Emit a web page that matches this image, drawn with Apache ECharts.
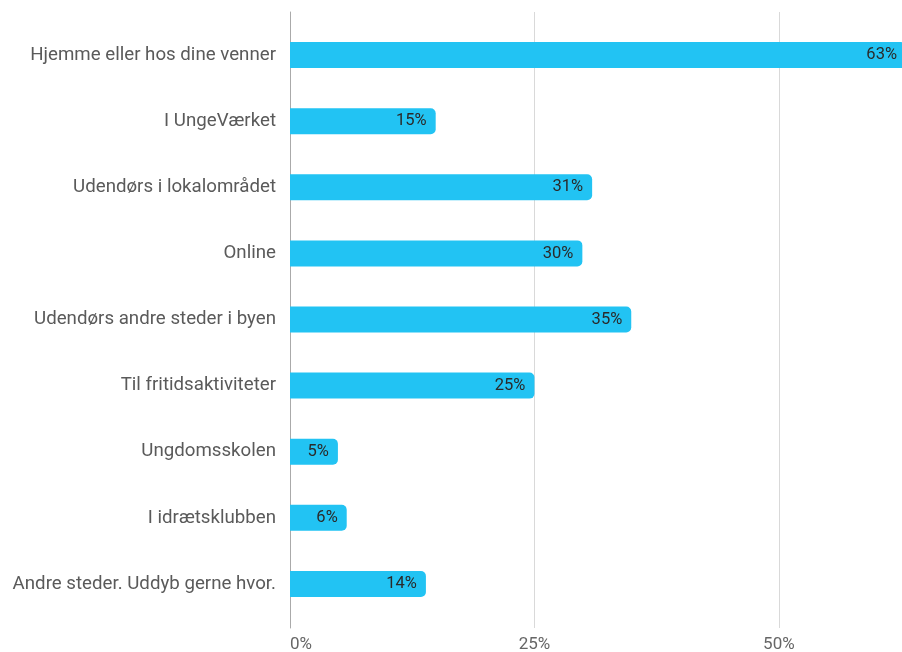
<!DOCTYPE html>
<html>
<head>
<meta charset="utf-8">
<script src="https://cdn.jsdelivr.net/npm/echarts@6/dist/echarts.min.js"></script>
<style>html,body{margin:0;padding:0;background:#fff}#c{width:902px;height:652px}</style>
</head>
<body>
<div id="c"></div>
<script>
const categories = [
  "Hjemme eller hos dine venner",
  "I UngeVærket",
  "Udendørs i lokalområdet",
  "Online",
  "Udendørs andre steder i byen",
  "Til fritidsaktiviteter",
  "Ungdomsskolen",
  "I idrætsklubben",
  "Andre steder. Uddyb gerne hvor."
];
const values = [63, 14.9, 30.9, 29.9, 34.9, 25, 4.9, 5.8, 13.9];
const tickLabels = ["0%", "25%", "50%"];

const chart = echarts.init(document.getElementById('c'));
chart.setOption({
  animation: false,
  grid: [
    {left: 290, width: 616, top: 22, bottom: 35, outerBoundsMode: 'none', containLabel: false},
    {left: 290, width: 616, top: 12, bottom: 24, outerBoundsMode: 'none', containLabel: false}
  ],
  xAxis: [
    {gridIndex: 0, type: 'value', min: 0, max: 63, show: false},
    {gridIndex: 1, type: 'value', min: 0, max: 63, interval: 25,
      axisLine: {show: false}, axisTick: {show: false},
      splitLine: {show: true, lineStyle: {color: '#d9d9d9', width: 1}},
      axisLabel: {color: '#666', fontFamily: 'Roboto', fontSize: 17, margin: 8,
        showMaxLabel: false, alignMinLabel: 'left',
        formatter: function (v) { return tickLabels[Math.round(v / 25)] || ''; }}
    }
  ],
  yAxis: [
    {gridIndex: 0, type: 'category', data: categories, inverse: true,
      axisLine: {show: false}, axisTick: {show: false}, splitLine: {show: false},
      axisLabel: {color: '#5a5a5a', fontFamily: 'Roboto', fontSize: 18.7, margin: 14}},
    {gridIndex: 1, type: 'value', min: 0, max: 1,
      axisLine: {show: true, lineStyle: {color: '#aaa', width: 1}},
      axisTick: {show: false}, axisLabel: {show: false}, splitLine: {show: false}}
  ],
  series: [{
    type: 'bar', xAxisIndex: 0, yAxisIndex: 0,
    data: values, barWidth: 26, clip: false,
    itemStyle: {color: '#22c3f3', borderRadius: [0, 5, 5, 0]},
    label: {show: true, position: 'insideRight', distance: 9, color: '#2a2a2a',
      fontFamily: 'Roboto', fontSize: 16.5,
      formatter: function (p) { return Math.round(p.value) + '%'; }}
  }]
});
</script>
</body>
</html>
